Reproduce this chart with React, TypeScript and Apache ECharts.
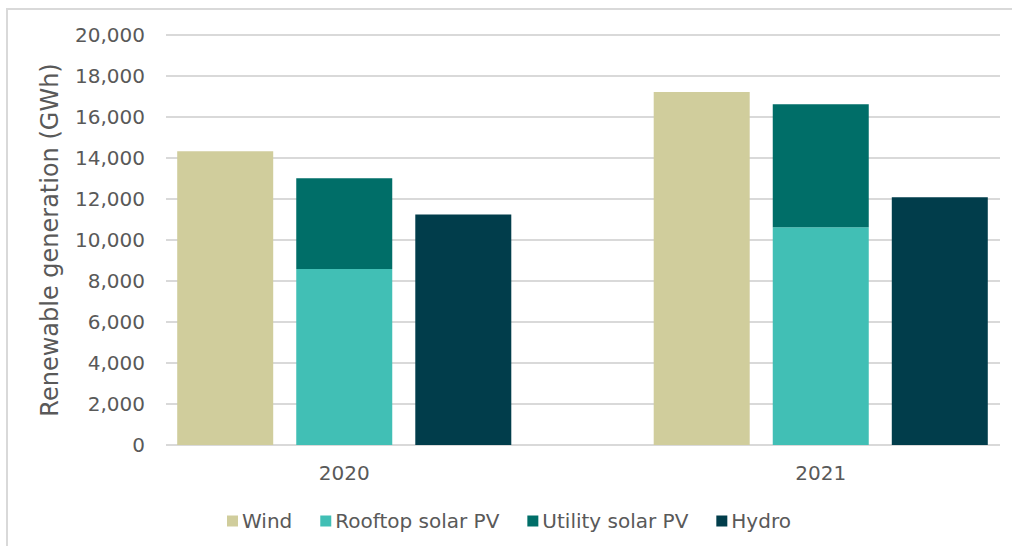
import React, { useEffect, useRef } from "react";
import * as echarts from "echarts";

const years = ["2020", "2021"];
const wind = [14330, 17220];
const rooftopSolar = [8590, 10620];
const utilitySolar = [4420, 6000];
const hydro = [11250, 12080];
const yTicks = { min: 0, max: 20000, interval: 2000 };

const FONT = "DejaVu Sans";
const TEXT = "#595959";
const GRID_LINE = "#d9d9d9";

export default function App() {
  const ref = useRef<HTMLDivElement>(null);
  useEffect(() => {
    if (!ref.current) return;
    const chart = echarts.init(ref.current, undefined, { renderer: "svg" });
    const top = 35;
    const height = 410;
    chart.setOption({
      animation: false,
      backgroundColor: "#ffffff",
      textStyle: { fontFamily: FONT, color: TEXT },
      graphic: [
        {
          type: "rect",
          shape: { x: 7, y: 9, width: 1020, height: 560 },
          style: { fill: "none", stroke: GRID_LINE, lineWidth: 2 },
          silent: true,
        },
      ],
      grid: [
        { left: 166, top, width: 834, height, outerBoundsMode: "none", containLabel: false },
        { left: 106, top, width: 953, height, outerBoundsMode: "none", containLabel: false },
      ],
      xAxis: [
        { type: "value", gridIndex: 0, show: false, min: 0, max: 1 },
        {
          type: "category",
          gridIndex: 1,
          data: years,
          axisLine: { show: false },
          axisTick: { show: false },
          axisLabel: { color: TEXT, fontFamily: FONT, fontSize: 20, margin: 18 },
        },
      ],
      yAxis: [
        {
          type: "value",
          gridIndex: 0,
          min: yTicks.min,
          max: yTicks.max,
          interval: yTicks.interval,
          name: "Renewable generation (GWh)",
          nameLocation: "middle",
          nameGap: 104,
          nameTextStyle: { color: TEXT, fontFamily: FONT, fontSize: 24 },
          axisLine: { show: false },
          axisTick: { show: false },
          axisLabel: {
            color: TEXT,
            fontFamily: FONT,
            fontSize: 20,
            margin: 21,
            formatter: (v: number) => v.toLocaleString("en-US"),
          },
          splitLine: { show: true, lineStyle: { color: GRID_LINE, width: 2 } },
        },
        {
          type: "value",
          gridIndex: 1,
          min: yTicks.min,
          max: yTicks.max,
          show: false,
          splitLine: { show: false },
        },
      ],
      legend: {
        left: 222,
        top: 506,
        icon: "rect",
        itemWidth: 11,
        itemHeight: 11,
        itemGap: 28,
        textStyle: { color: TEXT, fontFamily: FONT, fontSize: 20, padding: [0, 0, 0, -1] },
        data: ["Wind", "Rooftop solar PV", "Utility solar PV", "Hydro"],
      },
      series: [
        {
          name: "Wind",
          type: "bar",
          xAxisIndex: 1,
          yAxisIndex: 1,
          data: wind,
          barWidth: 96,
          barGap: "24%",
          itemStyle: { color: "#D0CD9C" },
        },
        {
          name: "Rooftop solar PV",
          type: "bar",
          stack: "solar",
          xAxisIndex: 1,
          yAxisIndex: 1,
          data: rooftopSolar,
          barWidth: 96,
          barGap: "24%",
          itemStyle: { color: "#41BFB5" },
        },
        {
          name: "Utility solar PV",
          type: "bar",
          stack: "solar",
          xAxisIndex: 1,
          yAxisIndex: 1,
          data: utilitySolar,
          barWidth: 96,
          barGap: "24%",
          itemStyle: { color: "#006E68" },
        },
        {
          name: "Hydro",
          type: "bar",
          xAxisIndex: 1,
          yAxisIndex: 1,
          data: hydro,
          barWidth: 96,
          barGap: "24%",
          itemStyle: { color: "#013D4B" },
        },
      ],
    });
    return () => chart.dispose();
  }, []);
  return (
    <div
      ref={ref}
      style={{ position: "fixed", left: 0, top: 0, width: 1012, height: 546 }}
    />
  );
}
